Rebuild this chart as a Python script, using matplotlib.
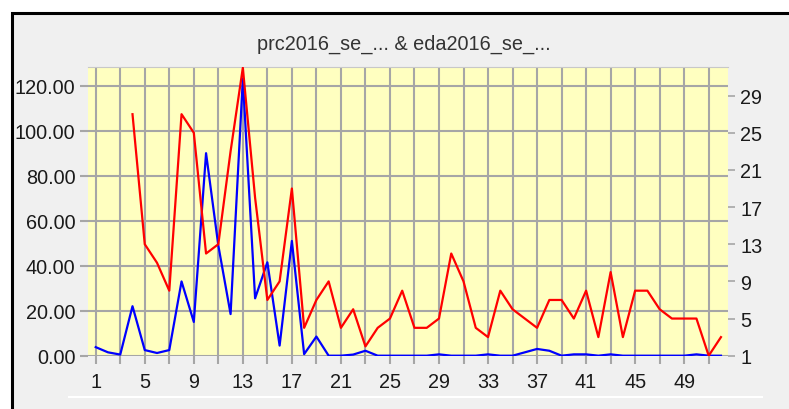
import matplotlib
matplotlib.use("Agg")
import matplotlib.pyplot as plt
import numpy as np
from matplotlib.lines import Line2D
from matplotlib.patches import Rectangle

# data (week index 1..52)
weeks = np.arange(1, 53)
prc = [3.8, 1.5, 0.5, 22, 2.5, 1.2, 2.5, 33, 15, 90,
       49, 18.5, 123, 25.5, 41.5, 4.5, 51, 0.7, 8.5, 0,
       0, 0.5, 2.2, 0, 0, 0, 0, 0, 0.6, 0,
       0, 0, 0.6, 0, 0, 1.5, 3, 2.2, 0, 0.6,
       0.6, 0, 0.6, 0, 0, 0, 0, 0, 0, 0.6,
       0, 0]
eda = [None, None, None, 27, 13, 11, 8, 27, 25, 12,
       13, 23, 32, 18, 7, 9, 19, 4, 7, 9,
       4, 6, 2, 4, 5, 8, 4, 4, 5, 12,
       9, 4, 3, 8, 6, 5, 4, 7, 7, 5,
       8, 3, 10, 3, 8, 8, 6, 5, 5, 5,
       1, 3]
left_ticks = [0, 20, 40, 60, 80, 100, 120]
right_ticks = [1, 5, 9, 13, 17, 21, 25, 29]
title = "prc2016_se_... & eda2016_se_..."

prc = np.array(prc, dtype=float)
eda = np.array([np.nan if v is None else v for v in eda], dtype=float)

plt.rcParams['font.family'] = ['Liberation Sans', 'DejaVu Sans']

W, H = 789, 410
fig = plt.figure(figsize=(W / 100, H / 100), dpi=100, facecolor='white')

# grey panel with black frame on left/top
fig.patches.append(Rectangle((11.5 / W, -0.1), 1.2, (H - 13.5) / H + 0.1,
                             transform=fig.transFigure, facecolor='#f0f0f0',
                             edgecolor='black', lw=2.2, zorder=-10))
fig.add_artist(Line2D([69 / W, 762 / W], [(H - 398) / H] * 2,
                      transform=fig.transFigure, color='white', lw=1.5, zorder=-5))

left, right, top, bottom = 88, 727.7, 68, 356.7
ax = fig.add_axes([left / W, (H - bottom) / H, (right - left) / W, (bottom - top) / H])
ax.set_facecolor('#ffffc0')
ax2 = ax.twinx()

grid_c = '#a6a6a6'
ax.plot(weeks, prc, color='#0000ff', lw=1.6, zorder=3)
ax2.plot(weeks, eda, color='#ff0000', lw=1.6, zorder=3)

ax.set_xlim(0.37, 52.55)
ax.set_ylim(0, 128.3)
ax2.set_ylim(1, 32.08)

xt = np.arange(1, 52, 2)
ax.set_xticks(xt)
ax.set_xticklabels([str(v) if (v - 1) % 4 == 0 else '' for v in xt])
ax.set_yticks(left_ticks)
ax.set_yticklabels([f"{v:.2f}" for v in left_ticks])
ax2.set_yticks(right_ticks)
ax2.set_yticklabels([str(v) for v in right_ticks])

fs = 14.3
ax.grid(True, color=grid_c, lw=1.5, zorder=1)
ax.set_axisbelow(True)
ax.tick_params(axis='x', length=6, width=1.5, color=grid_c, pad=6,
               labelsize=fs, labelcolor='#1a1a1a')
ax.tick_params(axis='y', length=6, width=1.5, color=grid_c, pad=3,
               labelsize=fs, labelcolor='#1a1a1a')
ax2.tick_params(axis='y', length=5, width=1.2, color=grid_c, pad=4,
                labelsize=fs, labelcolor='#1a1a1a')

for a in (ax, ax2):
    for s in a.spines.values():
        s.set_visible(False)
ax.spines['top'].set_visible(True)
ax.spines['top'].set_color('#c8c8c8')
ax.spines['top'].set_linewidth(0.8)

fig.text(404 / W, (H - 44) / H, title, ha='center', va='center',
         fontsize=fs, color='#333333')

fig.savefig('out.png', dpi=100, facecolor='white')
